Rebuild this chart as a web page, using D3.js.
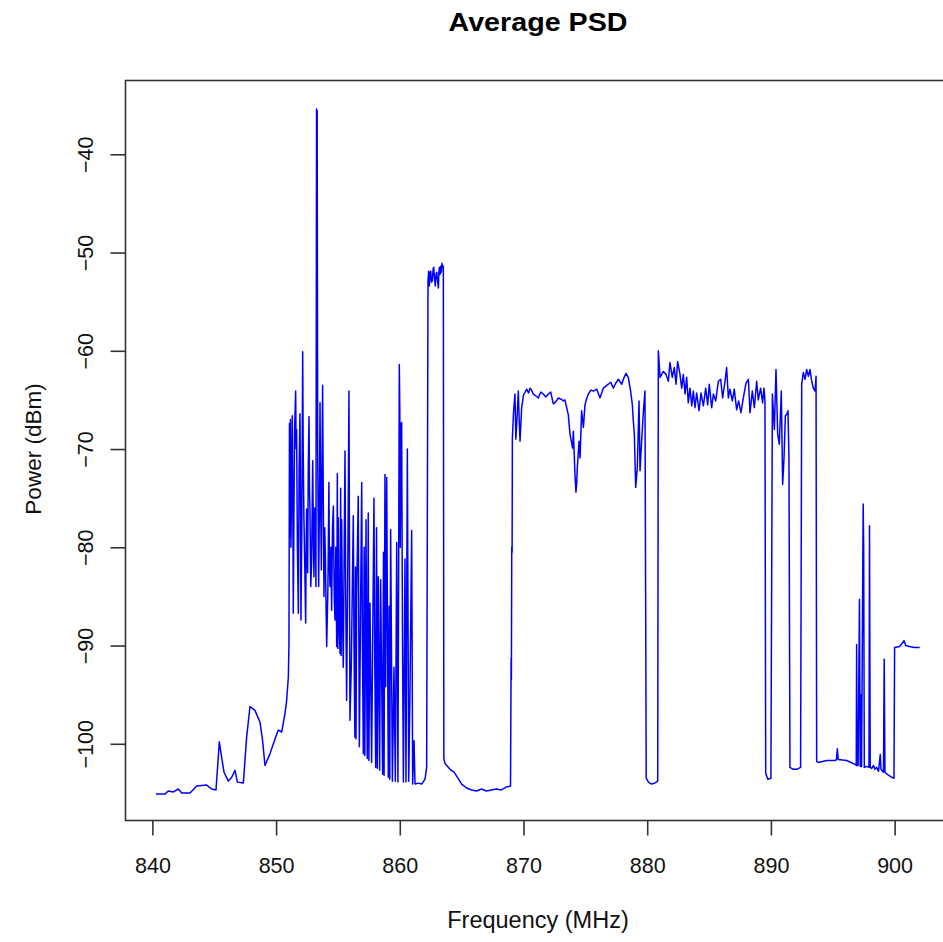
<!DOCTYPE html>
<html><head><meta charset="utf-8">
<script src="https://cdn.jsdelivr.net/npm/d3@7/dist/d3.min.js"></script>
<style>body{margin:0;background:#fff}svg{display:block}</style>
</head><body>
<svg id="chart" width="943" height="942"></svg>
<script>
const chartTitle = "Average PSD";
const xLabel = "Frequency (MHz)";
const yLabel = "Power (dBm)";
const xTicks = [840, 850, 860, 870, 880, 890, 900];
const yTicks = [-40, -50, -60, -70, -80, -90, -100];

const freq = [
840.29,841.02,841.29,841.69,842.10,842.37,843.04,843.58,844.39,844.79,
845.14,845.41,845.60,845.79,846.14,846.41,846.68,846.87,847.35,847.62,
847.89,848.29,848.70,848.91,849.10,849.51,849.91,850.18,850.45,850.72,
850.85,850.99,851.04,851.08,851.12,851.16,851.20,851.25,851.31,851.36,
851.39,851.45,851.50,851.58,851.62,851.66,851.72,851.80,851.86,851.93,
851.97,852.01,852.08,852.15,852.19,852.25,852.32,852.39,852.43,852.47,
852.55,852.60,852.66,852.70,852.74,852.80,852.87,852.96,853.02,853.06,
853.12,853.17,853.22,853.27,853.32,853.36,853.44,853.50,853.55,853.60,
853.66,853.72,853.76,853.80,853.87,853.93,853.98,854.04,854.09,854.19,
854.27,854.31,854.36,854.43,854.49,854.56,854.63,854.70,854.76,854.83,
854.90,854.95,854.99,855.03,855.10,855.17,855.22,855.26,855.30,855.36,
855.43,855.57,855.63,855.70,855.81,855.89,855.93,855.97,856.08,856.24,
856.30,856.37,856.42,856.46,856.51,856.64,856.70,856.73,856.92,856.98,
857.05,857.12,857.17,857.27,857.33,857.37,857.45,857.50,857.59,857.72,
857.91,857.98,858.05,858.12,858.18,858.26,858.37,858.45,858.61,858.68,
858.73,858.80,858.86,858.94,
859.07,859.14,859.19,859.26,859.40,859.53,859.64,859.75,859.85,859.96,860.00,860.04,
860.10,860.15,860.22,860.29,860.42,860.50,860.61,860.72,860.82,860.96,
861.04,861.15,861.23,861.50,861.77,862.04,862.17,862.28,862.33,862.39,
862.45,862.50,862.56,862.63,862.70,862.74,862.80,862.87,862.93,862.98,
863.05,863.12,863.16,863.20,863.26,863.31,863.36,863.41,863.47,863.52,
863.56,863.65,864.06,864.40,864.70,865.00,865.40,865.80,866.20,866.60,
867.00,867.40,867.80,868.20,868.60,868.95,869.00,869.02,869.05,869.08,
869.10,869.20,869.31,869.38,869.45,869.58,869.65,869.72,869.85,870.00,
870.26,870.40,870.53,870.65,870.79,871.00,871.20,871.40,871.60,871.80,
872.01,872.20,872.41,872.60,872.82,873.00,873.22,873.35,873.49,873.62,
873.76,873.97,874.03,874.10,874.16,874.24,874.30,874.35,874.49,874.57,
874.70,874.84,874.97,875.10,875.24,875.45,875.65,875.92,876.18,876.45,
876.65,876.86,877.05,877.26,877.45,877.67,877.94,878.10,878.29,878.47,
878.66,878.80,878.88,878.96,879.07,879.20,879.34,879.42,879.55,879.70,
879.82,879.92,880.10,880.35,880.60,880.85,880.90,881.04,881.30,881.52,
881.71,881.84,882.03,882.19,882.33,882.46,882.65,882.79,882.92,883.06,
883.19,883.32,883.46,883.60,883.73,883.86,884.00,884.19,884.35,884.54,
884.73,884.89,885.02,885.21,885.35,885.54,885.75,885.94,886.10,886.29,
886.42,886.56,886.69,886.88,887.04,887.23,887.39,887.58,887.77,887.99,
888.18,888.31,888.50,888.66,888.85,888.98,889.17,889.33,889.44,889.52,
889.58,889.75,890.00,890.12,890.28,890.41,890.55,890.68,890.84,890.95,
891.06,891.17,891.27,891.38,891.46,891.54,891.80,892.10,892.40,892.49,
892.62,892.76,892.89,893.03,893.16,893.30,893.43,893.57,893.65,893.70,
893.83,894.51,895.18,895.30,895.37,895.44,896.13,896.80,896.90,896.93,
896.97,897.05,897.16,897.22,897.28,897.33,897.46,897.50,897.55,897.75,
897.93,897.97,898.03,898.15,898.30,898.40,898.55,898.70,898.84,898.90,
899.10,899.16,899.22,899.50,899.75,899.95,900.00,900.40,900.60,900.76,
900.90,901.20,901.60,902.03
];

const power = [
-105.1,-105.1,-104.8,-104.9,-104.6,-105.0,-105.0,-104.3,-104.2,-104.6,
-104.7,-99.8,-101.4,-102.9,-103.8,-103.4,-102.7,-103.9,-104.0,-99.3,
-96.2,-96.6,-97.8,-99.7,-102.2,-101.0,-99.5,-98.6,-98.8,-96.9,
-95.6,-93.2,-89.8,-67.4,-78.9,-67.0,-80.0,-74.0,-66.6,-78.0,
-86.7,-75.0,-67.8,-64.1,-70.0,-68.0,-80.0,-86.7,-72.0,-66.4,
-75.0,-87.4,-78.0,-60.1,-70.0,-77.2,-82.0,-87.7,-80.0,-76.1,
-82.6,-72.0,-66.7,-74.0,-76.5,-84.0,-81.6,-71.2,-80.0,-83.0,
-76.0,-77.2,-84.0,-35.4,-35.6,-70.0,-84.0,-76.0,-65.3,-75.0,
-82.3,-70.0,-63.5,-72.0,-85.0,-78.0,-80.6,-86.0,-90.1,-84.0,
-73.4,-82.0,-84.0,-80.0,-86.4,-78.0,-75.8,-85.0,-87.4,-80.0,
-90.1,-72.5,-90.3,-77.0,-88.0,-90.8,-74.0,-91.0,-77.2,-86.0,
-92.2,-70.2,-85.0,-95.6,-80.0,-64.1,-80.0,-97.6,-92.0,-76.8,
-90.0,-99.3,-82.0,-99.5,-85.0,-74.8,-92.0,-100.3,-73.4,-90.0,
-101.0,-80.0,-101.2,-77.2,-95.0,-101.5,-76.5,-101.7,-85.7,-101.9,
-75.0,-92.0,-102.4,-78.0,-102.5,-83.0,-102.7,-83.3,-103.1,-80.5,
-103.2,-72.6,-94.2,-72.9,
-103.4,-86.0,-103.6,-78.2,-103.8,-92.2,-103.8,-79.5,-103.9,-61.4,-66.0,-80.0,
-67.5,-67.3,-90.0,-103.9,-81.2,-103.9,-70.0,-103.8,-95.0,-78.3,
-104.1,-99.7,-104.1,-104.0,-104.1,-103.6,-102.4,-52.9,-51.9,-53.4,
-52.0,-51.9,-53.0,-52.9,-51.6,-51.5,-52.5,-53.4,-52.3,-52.0,
-52.8,-53.6,-52.0,-51.5,-52.2,-51.4,-52.0,-51.1,-51.5,-51.4,
-101.5,-102.0,-102.6,-102.9,-103.5,-104.1,-104.5,-104.7,-104.8,-104.6,
-104.8,-104.7,-104.6,-104.7,-104.4,-104.3,-91.3,-93.5,-80.0,-80.5,
-68.9,-66.1,-64.4,-69.0,-67.5,-64.1,-67.0,-69.2,-65.8,-64.5,
-63.9,-64.3,-63.8,-64.0,-64.4,-64.6,-64.8,-64.2,-64.4,-64.7,
-64.4,-64.2,-65.4,-65.2,-64.8,-64.9,-65.1,-65.0,-65.8,-66.5,
-68.5,-69.9,-68.2,-70.5,-72.6,-74.4,-73.5,-71.9,-69.2,-70.9,
-66.1,-67.8,-65.5,-64.9,-64.4,-64.0,-64.1,-63.9,-64.8,-63.8,
-63.6,-63.4,-63.2,-63.8,-63.3,-62.9,-63.4,-62.8,-62.3,-62.7,
-64.1,-65.5,-67.2,-68.5,-73.9,-71.9,-65.1,-72.2,-69.2,-66.0,
-64.1,-103.5,-103.9,-104.1,-104.0,-103.8,-60.0,-62.7,-62.1,-62.4,
-63.1,-61.2,-62.7,-61.7,-63.4,-61.1,-62.4,-63.8,-62.4,-64.4,
-62.7,-65.3,-63.8,-65.6,-64.1,-65.8,-64.3,-66.1,-64.3,-65.6,
-63.8,-65.5,-63.4,-65.8,-64.4,-65.1,-63.1,-62.9,-64.8,-63.1,
-61.7,-64.8,-63.9,-65.1,-63.9,-66.0,-65.1,-66.3,-64.8,-63.3,
-62.9,-66.3,-64.1,-65.8,-63.1,-65.0,-63.8,-65.3,-63.8,-65.1,
-103.0,-103.6,-103.5,-64.4,-68.0,-61.9,-68.5,-69.5,-64.1,-73.6,
-70.9,-66.6,-66.5,-66.1,-70.9,-102.4,-102.6,-102.6,-102.4,-63.4,
-62.2,-62.9,-61.9,-62.6,-61.9,-63.1,-63.8,-64.1,-62.6,-101.8,
-101.9,-101.7,-101.7,-101.6,-100.5,-101.6,-101.7,-102.1,-102.2,-89.9,
-102.2,-102.2,-85.3,-102.3,-95.0,-102.3,-75.6,-80.0,-102.4,-102.3,
-102.4,-77.8,-102.4,-102.5,-102.2,-102.6,-102.4,-102.8,-101.1,-102.6,
-102.9,-91.4,-102.9,-103.2,-103.4,-103.5,-90.2,-90.1,-89.8,-89.5,
-90.0,-90.1,-90.2,-90.2
];

const n = Math.min(freq.length, power.length);
const data = d3.range(n).map(i => ({f: freq[i], p: power[i]}));

const svg = d3.select("#chart");
const FONT = "'Liberation Sans', Arial, Helvetica, sans-serif";

// plot frame
const box = {left: 125.5, top: 80.5, right: 950, bottom: 820.5};

const x = d3.scaleLinear().domain([840, 900]).range([152.4, 894.6]);
const y = d3.scaleLinear().domain([-40, -100]).range([154.3, 743.8]);

svg.append("rect").attr("width", 943).attr("height", 942).attr("fill", "#fff");

// data line
const line = d3.line().x(d => x(d.f)).y(d => y(d.p));
svg.append("path")
  .datum(data)
  .attr("d", line)
  .attr("fill", "none")
  .attr("stroke", "#0000ff")
  .attr("stroke-width", 1.5)
  .attr("stroke-linejoin", "round");

// box
svg.append("rect")
  .attr("x", box.left).attr("y", box.top)
  .attr("width", box.right - box.left).attr("height", box.bottom - box.top)
  .attr("fill", "none").attr("stroke", "#333").attr("stroke-width", 1.6);

// x axis
const gx = svg.append("g").attr("transform", `translate(0,${box.bottom})`)
  .call(d3.axisBottom(x).tickValues(xTicks).tickSize(15).tickFormat(d3.format("d")));
gx.select(".domain").remove();
gx.selectAll(".tick line").attr("stroke", "#333").attr("stroke-width", 1.6);
gx.selectAll(".tick text")
  .attr("y", 52.8).attr("dy", 0)
  .attr("font-family", FONT).attr("font-size", 21.5).attr("fill", "#111");

// y axis
const gy = svg.append("g").attr("transform", `translate(${box.left},0)`)
  .call(d3.axisLeft(y).tickValues(yTicks).tickSize(15).tickFormat(d3.format("d")));
gy.select(".domain").remove();
gy.selectAll(".tick line").attr("stroke", "#333").attr("stroke-width", 1.6);
gy.selectAll(".tick text")
  .attr("x", 0).attr("y", 0).attr("dy", 0)
  .attr("text-anchor", "middle")
  .attr("transform", "translate(-32.5,0) rotate(-90)")
  .attr("font-family", FONT).attr("font-size", 21.5).attr("fill", "#111");

// title
svg.append("text")
  .attr("x", 538).attr("y", 31)
  .attr("text-anchor", "middle")
  .attr("font-family", FONT).attr("font-weight", "bold").attr("font-size", 25)
  .attr("textLength", 179).attr("lengthAdjust", "spacingAndGlyphs")
  .attr("fill", "#000")
  .text(chartTitle);

// x label
svg.append("text")
  .attr("x", 538).attr("y", 928)
  .attr("text-anchor", "middle")
  .attr("font-family", FONT).attr("font-size", 23.5).attr("fill", "#111")
  .text(xLabel);

// y label
svg.append("text")
  .attr("transform", "translate(41,449) rotate(-90)")
  .attr("text-anchor", "middle")
  .attr("font-family", FONT).attr("font-size", 22.5).attr("fill", "#111")
  .text(yLabel);
</script>
</body></html>
